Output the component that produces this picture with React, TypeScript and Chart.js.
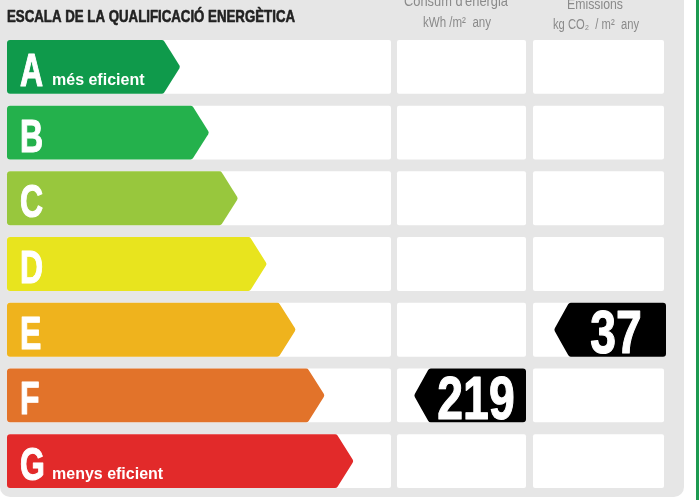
import React, { useEffect, useRef } from "react";
import { Chart, registerables } from "chart.js";

Chart.register(...registerables);

// ---- data ----
const classes = ["A", "B", "C", "D", "E", "F", "G"];
const arrowRank = [1, 2, 3, 4, 5, 6, 7];
const classColors = ["#0f9a4b", "#24b14c", "#98c73d", "#e8e41e", "#efb31d", "#e2732a", "#e22a2a"];
const classNotes = ["més eficient", "", "", "", "", "", "menys eficient"];
const title = "ESCALA DE LA QUALIFICACIÓ ENERGÈTICA";
const consumptionHeader = ["Consum d'energia", "kWh /m²  any"];
const emissionsHeader = ["Emissions", "kg CO₂  / m²  any"];
const consumptionValue = 219;
const consumptionClass = "F";
const emissionsValue = 37;
const emissionsClass = "E";

const SANS = '"Liberation Sans", Arial, Helvetica, sans-serif';

function roundedPoly(ctx: CanvasRenderingContext2D, pts: number[][], r: number) {
  const n = pts.length;
  ctx.beginPath();
  const start = [(pts[0][0] + pts[n - 1][0]) / 2, (pts[0][1] + pts[n - 1][1]) / 2];
  ctx.moveTo(start[0], start[1]);
  for (let i = 0; i < n; i++) {
    const p = pts[i];
    const q = pts[(i + 1) % n];
    ctx.arcTo(p[0], p[1], q[0], q[1], r);
  }
  ctx.closePath();
}

function rect(ctx: CanvasRenderingContext2D, x: number, y: number, w: number, h: number, r: number) {
  roundedPoly(ctx, [[x, y], [x + w, y], [x + w, y + h], [x, y + h]], r);
}

function condensed(ctx: CanvasRenderingContext2D, text: string, x: number, y: number, sx: number, align: CanvasTextAlign = "left", stroke = 0) {
  ctx.save();
  ctx.translate(x, y);
  ctx.scale(sx, 1);
  ctx.textAlign = align;
  ctx.fillText(text, 0, 0);
  if (stroke > 0) {
    ctx.strokeStyle = ctx.fillStyle as string;
    ctx.lineWidth = stroke;
    ctx.lineJoin = "round";
    ctx.strokeText(text, 0, 0);
  }
  ctx.restore();
}

const labelPlugin = {
  id: "energyLabel",
  beforeDraw(chart: any) {
    const ctx: CanvasRenderingContext2D = chart.ctx;
    const W = chart.width;
    const H = chart.height;
    const area = chart.chartArea;
    ctx.save();
    ctx.fillStyle = "#ffffff";
    ctx.fillRect(0, 0, W, H);
    ctx.fillStyle = "#e6e6e6";
    rect(ctx, 0, -20, 684, H - 3 + 20, 10);
    ctx.fill();
    ctx.fillStyle = "#1d9a50";
    ctx.fillRect(696, 0, 3, H);

    // title
    ctx.fillStyle = "#222222";
    ctx.font = `bold 17px ${SANS}`;
    ctx.textBaseline = "alphabetic";
    condensed(ctx, title, 7, 22, 0.78, "left", 0.6);

    // column headers
    ctx.fillStyle = "#8a8a8a";
    ctx.textAlign = "center";
    ctx.font = `15px ${SANS}`;
    ctx.fillText(consumptionHeader[0], 456, 6, 104);
    ctx.font = `14px ${SANS}`;
    ctx.fillText(consumptionHeader[1], 457, 27, 68);
    ctx.font = `15px ${SANS}`;
    ctx.fillText(emissionsHeader[0], 595, 9, 56);
    ctx.font = `14px ${SANS}`;
    ctx.fillText(emissionsHeader[1], 596, 29, 86);

    // row cells
    const meta = chart.getDatasetMeta(0);
    ctx.fillStyle = "#ffffff";
    meta.data.forEach((el: any) => {
      const top = el.y - el.height / 2;
      const h = el.height;
      rect(ctx, area.left, top, 391 - area.left, h, 2);
      ctx.fill();
      rect(ctx, 397, top, 129, h, 2);
      ctx.fill();
      rect(ctx, 533, top, 131, h, 2);
      ctx.fill();
    });
    ctx.restore();
  },
  afterDatasetsDraw(chart: any) {
    const ctx: CanvasRenderingContext2D = chart.ctx;
    const area = chart.chartArea;
    const meta = chart.getDatasetMeta(0);
    const pw = 17;
    ctx.save();
    meta.data.forEach((el: any, i: number) => {
      const top = el.y - el.height / 2;
      const bottom = el.y + el.height / 2;
      const left = area.left;
      const tip = el.x;
      ctx.fillStyle = classColors[i];
      roundedPoly(ctx, [[left, top], [tip - pw, top], [tip, el.y], [tip - pw, bottom], [left, bottom]], 3);
      ctx.fill();
      ctx.fillStyle = "#ffffff";
      ctx.textBaseline = "alphabetic";
      ctx.font = `bold 47px ${SANS}`;
      condensed(ctx, classes[i], left + 13, top + 46, 0.68, "left", 1.2);
      if (classNotes[i]) {
        ctx.font = `bold 16px ${SANS}`;
        ctx.textAlign = "left";
        ctx.fillText(classNotes[i], left + 45, top + 45, 112);
      }
    });

    const drawTag = (cls: string, value: number, right: number) => {
      const idx = classes.indexOf(cls);
      const el: any = meta.data[idx];
      const top = el.y - el.height / 2;
      const bottom = el.y + el.height / 2;
      const tip = right - 112;
      ctx.fillStyle = "#000000";
      roundedPoly(ctx, [[tip, el.y], [tip + 15, top], [right, top], [right, bottom], [tip + 15, bottom]], 3);
      ctx.fill();
      ctx.fillStyle = "#ffffff";
      ctx.font = `bold 61px ${SANS}`;
      condensed(ctx, String(value), (tip + 15 + right) / 2 - 1.5, bottom - 3.5, 0.76, "center", 1.2);
    };
    drawTag(consumptionClass, consumptionValue, 526);
    drawTag(emissionsClass, emissionsValue, 666);
    ctx.restore();
  },
};

export default function App() {
  const ref = useRef<HTMLCanvasElement>(null);
  useEffect(() => {
    document.body.style.margin = "0";
    const canvas = ref.current!;
    const chart = new Chart(canvas, {
      type: "bar",
      data: {
        labels: classes,
        datasets: [
          {
            data: arrowRank,
            backgroundColor: "rgba(0,0,0,0)",
            borderWidth: 0,
            categoryPercentage: 1,
            barPercentage: 0.82,
          },
        ],
      },
      options: {
        indexAxis: "y",
        responsive: false,
        animation: false,
        devicePixelRatio: 1,
        layout: { padding: { left: 7, right: 17, top: 34, bottom: 6 } },
        scales: {
          x: { display: false, min: -5, max: 18.4 },
          y: { display: false, offset: true },
        },
        plugins: { legend: { display: false }, tooltip: { enabled: false } },
      },
      plugins: [labelPlugin],
    } as any);
    return () => chart.destroy();
  }, []);
  return <canvas ref={ref} width={700} height={500} style={{ display: "block", width: 700, height: 500 }} />;
}
